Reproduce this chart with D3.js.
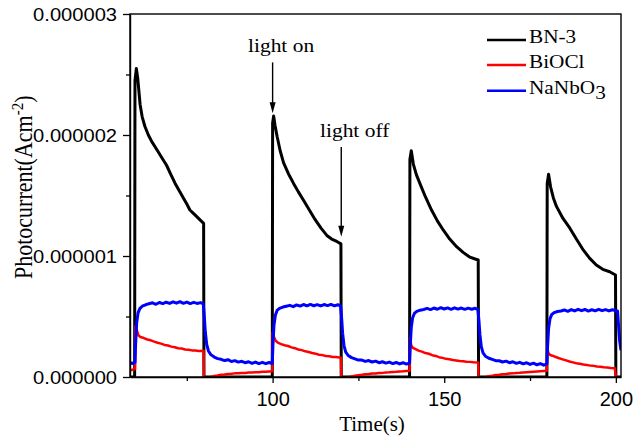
<!DOCTYPE html>
<html><head><meta charset="utf-8">
<script src="https://cdn.jsdelivr.net/npm/d3@7"></script>
<style>body{margin:0;background:#fff}svg{display:block}</style>
</head><body>
<script>
// ---- data (photocurrent in units of 1e-6 A/cm^2, time in s) ----
const seriesNames = ["BN-3", "BiOCl", "NaNbO3"];
const seriesColors = ["#000000", "#ff0000", "#0000ff"];

const bn3 = [
 [58.5,0],[59.8,0],[59.9,2.45],[60.3,2.55],[60.7,2.47],[61.4,2.25],[62.0,2.15],[62.8,2.07],[63.8,2.0],[64.8,1.945],
 [66.7,1.86],[68.0,1.80],[69.1,1.75],[70.4,1.67],[71.6,1.60],[72.8,1.54],[74.0,1.48],[75.0,1.43],[75.9,1.38],[77.0,1.35],
 [77.9,1.325],[79.0,1.295],[79.9,1.27],[80.0,0],[99.9,0],
 [100.0,2.10],[100.3,2.157],[100.7,2.08],[101.3,1.99],[102.2,1.87],[103.2,1.77],[104.6,1.68],[106.1,1.60],[107.5,1.53],
 [109.0,1.46],[110.7,1.38],[112.4,1.30],[114.1,1.23],[115.8,1.17],[117.2,1.14],[118.7,1.12],[119.9,1.10],[120.0,0],[139.9,0],
 [140.0,1.80],[140.4,1.87],[141.0,1.76],[141.9,1.67],[142.9,1.60],[144.5,1.49],[146.3,1.38],[148.0,1.29],[149.7,1.215],
 [151.6,1.14],[153.6,1.077],[155.5,1.03],[157.5,0.99],[159.0,0.975],[159.9,0.967],[160.0,0],[179.9,0],
 [180.0,1.60],[180.4,1.675],[181.0,1.57],[181.8,1.48],[182.7,1.41],[184.6,1.31],[186.6,1.23],[188.5,1.14],[190.5,1.05],
 [192.4,0.98],[194.3,0.925],[196.2,0.89],[198.2,0.87],[199.9,0.843],[200.0,0],[201.5,0]
];

const biocl = [
 [58.5,0.055],[59.2,0.06],[59.9,0.068],
 [60.05,0.42],[60.4,0.39],[60.9,0.345],[61.5,0.33],[62.5,0.322],[63.5,0.31],[64.5,0.303],[65.5,0.292],[66.5,0.283],
 [67.5,0.276],[68.5,0.265],[69.5,0.26],[70.5,0.251],[71.5,0.246],[72.5,0.238],[73.5,0.235],[74.5,0.228],[75.5,0.226],
 [76.5,0.22],[77.5,0.219],[78.5,0.215],[79.9,0.216],
 [80.0,-0.03],[81,-0.015],[82,0.0],[83,0.008],[84,0.012],[85,0.018],[86,0.02],[87,0.025],[88,0.026],[89,0.03],[90,0.031],
 [91,0.034],[92,0.034],[93,0.037],[94,0.038],[95,0.04],[96,0.04],[97,0.043],[98,0.043],[99,0.046],[99.9,0.047],
 [100.05,0.37],[100.4,0.33],[100.9,0.30],[101.5,0.285],[102.5,0.272],[103.5,0.262],[104.5,0.256],[105.5,0.245],[106.5,0.238],
 [107.5,0.227],[108.5,0.222],[109.5,0.212],[110.5,0.207],[111.5,0.198],[112.5,0.193],[113.5,0.184],[114.5,0.181],[115.5,0.174],
 [116.5,0.172],[117.5,0.166],[118.5,0.165],[119.9,0.16],
 [120.0,-0.03],[121,-0.015],[122,-0.002],[123,0.005],[124,0.01],[125,0.015],[126,0.018],[127,0.022],[128,0.024],[129,0.028],
 [130,0.029],[131,0.033],[132,0.034],[133,0.038],[134,0.039],[135,0.042],[136,0.043],[137,0.046],[138,0.047],[139,0.05],[139.9,0.052],
 [140.05,0.32],[140.4,0.26],[140.9,0.24],[141.5,0.232],[142.5,0.218],[143.5,0.21],[144.5,0.198],[145.5,0.192],[146.5,0.18],
 [147.5,0.174],[148.5,0.164],[149.5,0.158],[150.5,0.15],[151.5,0.146],[152.5,0.14],[153.5,0.137],[154.5,0.132],[155.5,0.13],
 [156.5,0.126],[157.5,0.125],[158.5,0.121],[159.9,0.12],
 [160.0,-0.03],[161,-0.015],[162,-0.002],[163,0.006],[164,0.01],[165,0.016],[166,0.018],[167,0.023],[168,0.025],[169,0.028],
 [170,0.03],[171,0.033],[172,0.035],[173,0.038],[174,0.04],[175,0.042],[176,0.044],[177,0.046],[178,0.048],[179,0.05],[179.9,0.052],
 [180.05,0.23],[180.4,0.195],[180.9,0.182],[181.5,0.176],[182.5,0.165],[183.5,0.155],[184.5,0.146],[185.5,0.137],[186.5,0.128],
 [187.5,0.121],[188.5,0.114],[189.5,0.109],[190.5,0.103],[191.5,0.1],[192.5,0.094],[193.5,0.092],[194.5,0.087],[195.5,0.085],
 [196.5,0.081],[197.5,0.079],[198.5,0.075],[199.7,0.072],
 [200.1,-0.03],[201.5,-0.03]
];

const nanbo3 = [
 [58.5,0.118],[59.2,0.112],[59.9,0.12],
 [60.1,0.28],[60.4,0.45],[60.8,0.53],[61.3,0.565],[62,0.585],[63,0.597],
 [64,0.606],[65,0.613],[66,0.601],[67,0.616],[68,0.606],[69,0.618],[70,0.608],[71,0.621],[72,0.61],[73,0.622],[74,0.609],
 [75,0.619],[76,0.607],[77,0.617],[78,0.608],[79,0.615],[79.8,0.605],
 [80.1,0.5],[80.4,0.37],[80.8,0.27],[81.3,0.215],[82,0.185],[83,0.165],[84,0.152],[85,0.146],[86,0.136],[87,0.143],[88,0.128],
 [89,0.135],[90,0.123],[91,0.13],[92,0.118],[93,0.126],[94,0.113],[95,0.123],[96,0.111],[97,0.121],[98,0.11],[99,0.12],[99.9,0.112],
 [100.1,0.27],[100.4,0.43],[100.8,0.51],[101.3,0.55],[102,0.567],[103,0.578],[104,0.585],
 [105,0.592],[106,0.581],[107,0.596],[108,0.586],[109,0.599],[110,0.588],[111,0.6],[112,0.589],[113,0.598],[114,0.587],
 [115,0.599],[116,0.59],[117,0.6],[118,0.588],[119,0.597],[119.8,0.588],
 [120.1,0.49],[120.4,0.36],[120.8,0.26],[121.3,0.205],[122,0.178],[123,0.16],[124,0.15],[125,0.14],[126,0.14],[127,0.129],
 [128,0.136],[129,0.124],[130,0.131],[131,0.118],[132,0.126],[133,0.115],[134,0.123],[135,0.111],[136,0.12],[137,0.108],
 [138,0.118],[139,0.107],[139.9,0.115],
 [140.1,0.26],[140.4,0.41],[140.8,0.49],[141.3,0.525],[142,0.542],[143,0.552],[144,0.558],
 [145,0.567],[146,0.557],[147,0.57],[148,0.56],[149,0.573],[150,0.562],[151,0.571],[152,0.559],[153,0.572],[154,0.561],
 [155,0.57],[156,0.559],[157,0.569],[158,0.56],[159,0.568],[159.8,0.558],
 [160.1,0.47],[160.4,0.35],[160.8,0.25],[161.3,0.2],[162,0.172],[163,0.155],[164,0.145],[165,0.135],[166,0.134],[167,0.124],
 [168,0.131],[169,0.118],[170,0.126],[171,0.113],[172,0.121],[173,0.109],[174,0.118],[175,0.104],[176,0.114],[177,0.101],
 [178,0.111],[179,0.098],[179.9,0.108],
 [180.1,0.25],[180.4,0.4],[180.8,0.48],[181.3,0.515],[182,0.532],[183,0.541],[184,0.546],
 [185,0.554],[186,0.543],[187,0.557],[188,0.546],[189,0.559],[190,0.548],[191,0.558],[192,0.545],[193,0.556],[194,0.547],
 [195,0.559],[196,0.548],[197,0.557],[198,0.546],[199,0.556],[200,0.548],[200.5,0.545],
 [200.8,0.42],[201.1,0.3],[201.5,0.22]
];

const xTickValues = [100, 150, 200];
const xMinorTicks = [75, 125, 175];
const yTickValues = [0, 1, 2, 3];
const yTickLabels = ["0.000000", "0.000001", "0.000002", "0.000003"];
const yMinorTicks = [0.5, 1.5, 2.5];
const xDomain = [58.45, 201.5];
const yDomain = [0, 3];
const annotations = [
  {label: "light on", t: 100, from: 2.60, to: 2.18},
  {label: "light off", t: 120, from: 1.90, to: 1.16}
];

// ---- layout ----
const W = 638, H = 441;
const m = {left: 130, top: 14, right: 17, bottom: 64};
const svg = d3.select("body").append("svg").attr("width", W).attr("height", H);
const x = d3.scaleLinear().domain(xDomain).range([m.left, W - m.right]);
const y = d3.scaleLinear().domain(yDomain).range([H - m.bottom, m.top]);

svg.append("defs").append("clipPath").attr("id", "clip")
  .append("rect").attr("x", m.left).attr("y", m.top)
  .attr("width", W - m.left - m.right).attr("height", H - m.top - m.bottom);

// ---- lines ----
const line = d3.line().x(d => x(d[0])).y(d => y(d[1])).curve(d3.curveLinear);
const series = [bn3, biocl, nanbo3];
const widths = [3, 2.5, 3];
const g = svg.append("g").attr("clip-path", "url(#clip)");
series.forEach((s, i) => {
  g.append("path").datum(s).attr("d", line)
    .attr("fill", "none").attr("stroke", seriesColors[i])
    .attr("stroke-width", widths[i]).attr("stroke-linejoin", "round");
});

// ---- frame ----
svg.append("rect").attr("x", m.left).attr("y", m.top)
  .attr("width", W - m.left - m.right).attr("height", H - m.top - m.bottom)
  .attr("fill", "none").attr("stroke", "#000").attr("stroke-width", 1.4);

// ---- axes ----
const yAxis = d3.axisLeft(y).tickValues(yTickValues)
  .tickFormat((d, i) => yTickLabels[i]).tickSize(7).tickSizeOuter(0).tickPadding(6);
const ya = svg.append("g").attr("transform", `translate(${m.left},0)`).call(yAxis);
ya.select(".domain").attr("stroke-width", 1.4);
ya.selectAll(".tick line").attr("stroke-width", 1.3);
ya.selectAll(".tick text")
  .attr("font-family", "'Liberation Sans', Arial, sans-serif").attr("font-size", 17.5)
  .attr("fill", "#000").attr("x", -13 / 1.15).attr("dy", "0.35em")
  .attr("transform", "scale(1.15,1)");

const yMinor = d3.axisLeft(y).tickValues(yMinorTicks).tickFormat("").tickSize(4).tickSizeOuter(0);
const ym = svg.append("g").attr("transform", `translate(${m.left},0)`).call(yMinor);
ym.select(".domain").remove();
ym.selectAll(".tick line").attr("stroke-width", 1.3);

const xAxis = d3.axisBottom(x).tickValues(xTickValues).tickSize(6).tickSizeOuter(0);
const xa = svg.append("g").attr("transform", `translate(0,${H - m.bottom})`).call(xAxis);
xa.select(".domain").attr("stroke-width", 1.4);
xa.selectAll(".tick line").attr("stroke-width", 1.3);
xa.selectAll(".tick text")
  .attr("font-family", "'Liberation Sans', Arial, sans-serif").attr("font-size", 20)
  .attr("fill", "#000").attr("y", 29).attr("dy", 0);

const xMinor = d3.axisBottom(x).tickValues(xMinorTicks).tickFormat("").tickSize(4).tickSizeOuter(0);
const xm = svg.append("g").attr("transform", `translate(0,${H - m.bottom})`).call(xMinor);
xm.select(".domain").remove();
xm.selectAll(".tick line").attr("stroke-width", 1.3);

// ---- axis titles ----
const serif = "'Liberation Serif', 'Times New Roman', serif";
svg.append("text").attr("x", 372).attr("y", 430.5).attr("text-anchor", "middle")
  .attr("font-family", serif).attr("font-size", 21).text("Time(s)");

const yt = svg.append("text").attr("transform", "translate(32,279) scale(1.12,1) rotate(-90)")
  .attr("font-family", serif).attr("font-size", 22);
yt.append("tspan").text("Photocurrent(Acm");
yt.append("tspan").attr("font-size", 15).attr("dy", -8).text("-2");
yt.append("tspan").attr("dy", 8).text(")");

// ---- legend ----
const legY = [40, 65, 90.7];
seriesNames.forEach((name, i) => {
  svg.append("line").attr("x1", 487).attr("x2", 526).attr("y1", legY[i]).attr("y2", legY[i])
    .attr("stroke", seriesColors[i]).attr("stroke-width", 2.6);
  const t = svg.append("text").attr("transform", `translate(529,${legY[i] + 3.3}) scale(1.15,1)`)
    .attr("font-family", serif).attr("font-size", 18.5);
  if (name === "NaNbO3") {
    t.append("tspan").text("NaNbO");
    t.append("tspan").attr("dy", 5).attr("font-size", 18.5).text("3");
  } else t.text(name);
});

// ---- annotations ----
const annTextPos = [[248, 52], [320, 136.5]];
annotations.forEach((a, i) => {
  const ax = x(a.t), y0 = y(a.from), y1 = y(a.to);
  svg.append("line").attr("x1", ax).attr("x2", ax).attr("y1", y0).attr("y2", y1 - 10)
    .attr("stroke", "#000").attr("stroke-width", 1.4);
  svg.append("path").attr("d", `M${ax - 3},${y1 - 11} L${ax + 3},${y1 - 11} L${ax},${y1} Z`).attr("fill", "#000");
  svg.append("text").attr("transform", `translate(${annTextPos[i][0]},${annTextPos[i][1]}) scale(1.1,1)`)
    .attr("font-family", serif).attr("font-size", 19.5).text(a.label);
});
</script>
</body></html>
